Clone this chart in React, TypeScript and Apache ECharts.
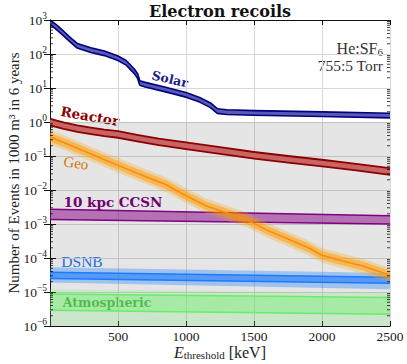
import React, { useEffect, useRef } from "react";
import * as echarts from "echarts";

// ---------- axis ranges ----------
const X_MIN = 0;
const X_MAX = 2500;
const Y_MIN = 1e-6;
const Y_MAX = 1e3;
const xTickLabels = [500, 1000, 1500, 2000, 2500];

// ---------- Solar ----------
const solarX = [0, 50, 100, 150, 200, 300, 400, 500, 560, 620, 645, 660, 700, 850, 1000, 1100, 1180, 1230, 1300, 1500, 2000, 2500];
const solarMid = [870, 600, 400, 260, 175, 130, 105, 75, 55, 31, 22, 14, 12.5, 9, 6.3, 4.5, 3.1, 2.1, 1.95, 1.85, 1.7, 1.55];
const solarSpread = 1.17;

// ---------- Reactor ----------
const reactorX = [0, 50, 100, 200, 300, 400, 500, 650, 800, 1000, 1250, 1500, 1750, 2000, 2250, 2500];
const reactorMid = [1.0, 0.88, 0.78, 0.64, 0.55, 0.48, 0.43, 0.33, 0.26, 0.2, 0.145, 0.105, 0.08, 0.062, 0.047, 0.035];
const reactorSpread = 1.25;

// ---------- Geo ----------
const geoX = [0, 100, 250, 400, 550, 700, 850, 1000, 1150, 1300, 1450, 1600, 1750, 1900, 2000, 2150, 2300, 2500];
const geoMid = [0.36, 0.25, 0.14, 0.078, 0.044, 0.025, 0.0145, 0.0068, 0.0034, 0.0021, 0.0013, 0.00065, 0.00036, 0.0002, 0.00012, 0.000082, 0.000058, 0.000031];
const geoInnerSpread = 1.35;
const geoOuterSpread = 1.65;

// ---------- 10 kpc CCSN ----------
const ccsnX = [0, 2500];
const ccsnLo = [1.35e-3, 1.0e-3];
const ccsnHi = [2.7e-3, 1.75e-3];

// ---------- DSNB ----------
const dsnbX = [0, 2500];
const dsnbInnerLo = [2.5e-5, 1.8e-5];
const dsnbInnerHi = [3.8e-5, 2.7e-5];
const dsnbOuterLo = [1.9e-5, 1.2e-5];
const dsnbOuterHi = [5.3e-5, 3.6e-5];

// ---------- Atmospheric ----------
const atmX = [0, 2500];
const atmInnerLo = [2.9e-6, 2.2e-6];
const atmInnerHi = [8.7e-6, 6.9e-6];
const atmOuterLo = [3e-7, 2.5e-7];
const atmOuterHi = [1.2e-5, 9.5e-6];

// ---------- shaded region (≥ this value is white) ----------
const shadeX = [0, 2500];
const shadeTop = [1, 1];
const shadeBottom = [1e-6, 1e-6];

const SERIF = "Liberation Serif";
const BOLD_SERIF = "DejaVu Serif";

type Layer = { xs: number[]; lo: number[]; hi: number[]; fill: string };
type Ln = { xs: number[]; ys: number[]; color: string; width: number };

function bandSeries(name: string, layers: Layer[], lines: Ln[], z: number) {
  return {
    type: "custom",
    name,
    xAxisIndex: 0,
    yAxisIndex: 0,
    clip: true,
    silent: true,
    z,
    data: [[1250, 1]],
    encode: { x: 0, y: 1 },
    renderItem: (_p: any, api: any) => {
      const children: any[] = [];
      for (const L of layers) {
        const top = L.xs.map((x, i) => api.coord([x, L.hi[i]]));
        const bot = L.xs.map((x, i) => api.coord([x, L.lo[i]])).reverse();
        children.push({ type: "polygon", shape: { points: top.concat(bot) }, style: { fill: L.fill } });
      }
      for (const ln of lines) {
        children.push({
          type: "polyline",
          shape: { points: ln.xs.map((x, i) => api.coord([x, ln.ys[i]])) },
          style: { stroke: ln.color, lineWidth: ln.width, fill: null, lineJoin: "round" },
        });
      }
      return { type: "group", children };
    },
  };
}

const mul = (a: number[], f: number) => a.map((v) => v * f);

const minorTickValues: number[] = [];
for (let e = -6; e < 3; e++) for (let m = 2; m <= 9; m++) minorTickValues.push(m * Math.pow(10, e));

const supMap = (v: number) => {
  const e = Math.round(Math.log10(v));
  return `{b|10}{s|${e < 0 ? "\u2212" + -e : e}}`;
};

export default function App() {
  const ref = useRef<HTMLDivElement>(null);
  useEffect(() => {
    const chart = echarts.init(ref.current!, null, { renderer: "svg" });

    const axisLine = { show: true, lineStyle: { color: "#111", width: 1 } };
    const option: any = {
      animation: false,
      backgroundColor: "#ffffff",
      grid: { left: 50, right: 17, top: 20, bottom: 38, containLabel: false, outerBoundsMode: "none" },
      xAxis: [
        {
          type: "value",
          min: X_MIN,
          max: X_MAX,
          interval: 500,
          position: "bottom",
          axisLine,
          axisTick: { show: true, inside: true, length: 5, lineStyle: { color: "#111" } },
          axisLabel: {
            showMinLabel: false,
            margin: 3,
            fontFamily: SERIF,
            fontSize: 13.5,
            lineHeight: 14,
            color: "#222",
            formatter: (v: number) => (xTickLabels.includes(v) ? String(v) : ""),
          },
          splitLine: { show: true, lineStyle: { color: "#d8d8d8", width: 1 } },
          name: "{e|E}{sub|threshold}{n| [keV]}",
          nameLocation: "middle",
          nameGap: 18,
          nameMoveOverlap: false,
          nameTextStyle: {
            rich: {
              e: { fontFamily: SERIF, fontStyle: "italic", fontSize: 16, color: "#222" },
              sub: { fontFamily: SERIF, fontSize: 11, color: "#222", padding: [5, 0, 0, 0] },
              n: { fontFamily: SERIF, fontSize: 16, color: "#222" },
            },
          },
        },
        {
          type: "value",
          min: X_MIN,
          max: X_MAX,
          interval: 500,
          position: "top",
          axisLine,
          axisTick: { show: true, inside: true, length: 5, lineStyle: { color: "#111" } },
          axisLabel: { show: false },
          splitLine: { show: false },
        },
      ],
      yAxis: [
        {
          type: "log",
          logBase: 10,
          min: Y_MIN,
          max: Y_MAX,
          splitNumber: 9,
          position: "left",
          axisLine,
          axisTick: { show: true, inside: true, length: 6, lineStyle: { color: "#111" } },
          axisLabel: {
            margin: 3,
            formatter: supMap,
            rich: {
              b: { fontFamily: SERIF, fontSize: 13.5, color: "#222" },
              s: { fontFamily: SERIF, fontSize: 9.5, color: "#222", padding: [0, 0, 8, 0] },
            },
          },
          splitLine: { show: true, lineStyle: { color: "#d8d8d8", width: 1 } },
          name: "Number of Events in 1000 m\u00b3 in 6 years",
          nameLocation: "middle",
          nameGap: 29,
          nameMoveOverlap: false,
          nameTextStyle: { fontFamily: SERIF, fontSize: 15, color: "#222" },
        },
        {
          type: "log",
          logBase: 10,
          min: Y_MIN,
          max: Y_MAX,
          splitNumber: 9,
          position: "right",
          axisLine,
          axisTick: { show: true, inside: true, length: 6, lineStyle: { color: "#111" } },
          axisLabel: { show: false },
          splitLine: { show: false },
        },
      ],
      series: [
        bandSeries("shade", [{ xs: shadeX, lo: shadeBottom, hi: shadeTop, fill: "rgba(0,0,0,0.1)" }], [], 1),
        bandSeries(
          "Atmospheric",
          [
            { xs: atmX, lo: atmOuterLo, hi: atmOuterHi, fill: "rgba(120,235,120,0.22)" },
            { xs: atmX, lo: atmInnerLo, hi: atmInnerHi, fill: "rgba(120,240,120,0.45)" },
          ],
          [
            { xs: atmX, ys: atmInnerLo, color: "#66ee66", width: 1.5 },
            { xs: atmX, ys: atmInnerHi, color: "#66ee66", width: 1.5 },
          ],
          2
        ),
        bandSeries(
          "DSNB",
          [
            { xs: dsnbX, lo: dsnbOuterLo, hi: dsnbOuterHi, fill: "rgba(30,130,255,0.35)" },
            { xs: dsnbX, lo: dsnbInnerLo, hi: dsnbInnerHi, fill: "rgba(30,120,255,0.55)" },
          ],
          [
            { xs: dsnbX, ys: dsnbInnerLo, color: "#1a7cff", width: 1.5 },
            { xs: dsnbX, ys: dsnbInnerHi, color: "#1a7cff", width: 1.5 },
          ],
          3
        ),
        bandSeries(
          "CCSN",
          [{ xs: ccsnX, lo: ccsnLo, hi: ccsnHi, fill: "rgba(140,20,140,0.55)" }],
          [
            { xs: ccsnX, ys: ccsnLo, color: "#800080", width: 1.5 },
            { xs: ccsnX, ys: ccsnHi, color: "#800080", width: 1.5 },
          ],
          4
        ),
        bandSeries(
          "Geo",
          [
            { xs: geoX, lo: mul(geoMid, 1 / geoOuterSpread), hi: mul(geoMid, geoOuterSpread), fill: "rgba(255,165,0,0.28)" },
            { xs: geoX, lo: mul(geoMid, 1 / geoInnerSpread), hi: mul(geoMid, geoInnerSpread), fill: "rgba(255,150,0,0.45)" },
          ],
          [{ xs: geoX, ys: geoMid, color: "#ff8c00", width: 1.6 }],
          5
        ),
        bandSeries(
          "Reactor",
          [{ xs: reactorX, lo: mul(reactorMid, 1 / reactorSpread), hi: mul(reactorMid, reactorSpread), fill: "#c86464" }],
          [
            { xs: reactorX, ys: mul(reactorMid, 1 / reactorSpread), color: "#8b0000", width: 1.8 },
            { xs: reactorX, ys: mul(reactorMid, reactorSpread), color: "#8b0000", width: 1.8 },
          ],
          6
        ),
        bandSeries(
          "Solar",
          [{ xs: solarX, lo: mul(solarMid, 1 / solarSpread), hi: mul(solarMid, solarSpread), fill: "#5a5ab4" }],
          [
            { xs: solarX, ys: mul(solarMid, 1 / solarSpread), color: "#000080", width: 1.6 },
            { xs: solarX, ys: mul(solarMid, solarSpread), color: "#000080", width: 1.6 },
          ],
          7
        ),
        {
          type: "custom",
          name: "minorTicks",
          xAxisIndex: 0,
          yAxisIndex: 0,
          silent: true,
          z: 10,
          data: [[1250, 1]],
          encode: { x: 0, y: 1 },
          renderItem: (_p: any, api: any) => {
            const children: any[] = [];
            for (const v of minorTickValues) {
              const l = api.coord([X_MIN, v]);
              const r = api.coord([X_MAX, v]);
              children.push({ type: "line", shape: { x1: l[0], y1: l[1], x2: l[0] + 3, y2: l[1] }, style: { stroke: "#111", lineWidth: 0.8 } });
              children.push({ type: "line", shape: { x1: r[0], y1: r[1], x2: r[0] - 3, y2: r[1] }, style: { stroke: "#111", lineWidth: 0.8 } });
            }
            return { type: "group", children };
          },
        },
      ],
      graphic: [
        {
          type: "text",
          x: 220,
          y: 11,
          style: { text: "Electron recoils", font: `bold 16px '${BOLD_SERIF}'`, fill: "#111", textAlign: "center", textVerticalAlign: "middle" },
        },
        {
          type: "text",
          x: 383,
          y: 48,
          style: {
            text: "{a|He:SF}{b|6}",
            textAlign: "right",
            textVerticalAlign: "middle",
            rich: {
              a: { fontFamily: SERIF, fontSize: 16, fill: "#333" },
              b: { fontFamily: SERIF, fontSize: 11, fill: "#333", padding: [7, 0, 0, 0] },
            },
          },
        },
        {
          type: "text",
          x: 383,
          y: 65,
          style: { text: "755:5 Torr", font: `15.5px '${SERIF}'`, fill: "#333", textAlign: "right", textVerticalAlign: "middle" },
        },
        {
          type: "text",
          x: 170,
          y: 79,
          rotation: (-13 * Math.PI) / 180,
          style: { text: "Solar", font: `bold 12.5px '${BOLD_SERIF}'`, fill: "#1c1c8c", textAlign: "center", textVerticalAlign: "middle" },
        },
        {
          type: "text",
          x: 90,
          y: 116,
          rotation: (-10 * Math.PI) / 180,
          style: { text: "Reactor", font: `bold 13.5px '${BOLD_SERIF}'`, fill: "#8b0000", textAlign: "center", textVerticalAlign: "middle" },
        },
        {
          type: "text",
          x: 76,
          y: 163,
          rotation: (-8 * Math.PI) / 180,
          style: { text: "Geo", font: `15px '${SERIF}'`, fill: "#f08800", textAlign: "center", textVerticalAlign: "middle" },
        },
        {
          type: "text",
          x: 113,
          y: 202,
          style: { text: "10 kpc CCSN", font: `bold 13.5px '${BOLD_SERIF}'`, fill: "#800080", textAlign: "center", textVerticalAlign: "middle" },
        },
        {
          type: "text",
          x: 82,
          y: 261,
          style: { text: "DSNB", font: `15.5px '${SERIF}'`, fill: "#1a7cff", textAlign: "center", textVerticalAlign: "middle" },
        },
        {
          type: "text",
          x: 107,
          y: 302,
          style: { text: "Atmospheric", font: `bold 12.5px '${BOLD_SERIF}'`, fill: "#1e8a1e", textAlign: "center", textVerticalAlign: "middle" },
        },
      ],
    };

    chart.setOption(option);
    return () => chart.dispose();
  }, []);

  return <div ref={ref} style={{ position: "fixed", left: 0, top: 0, width: 407, height: 364 }} />;
}
